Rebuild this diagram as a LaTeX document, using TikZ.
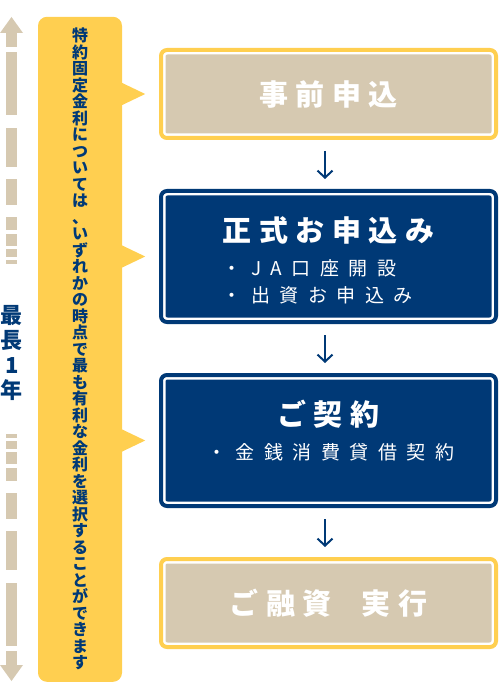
\documentclass[tikz,border=0pt]{standalone}
\usepackage{fontspec}
\usepackage{tikz}
\usetikzlibrary{arrows.meta,calc,positioning}
\newfontfamily\jp{Noto Sans CJK JP}
\newfontfamily\jptitle[LetterSpace=26]{Noto Sans CJK JP}
\newfontfamily\jpitem[LetterSpace=50]{Noto Sans CJK JP}
\definecolor{jagold}{RGB}{255,207,80}
\definecolor{jasand}{RGB}{214,201,177}
\definecolor{janavy}{RGB}{0,57,118}
\tikzset{
  panel/.style={
    rectangle,
    rounded corners=6pt,
    minimum width=335pt,
    outer sep=0pt,
    inner sep=0pt,
    draw=white,
    line width=9pt
  },
  pale/.style={
    panel,
    minimum height=88pt,
    preaction={fill=jasand},
    postaction={draw=jagold,line width=4pt},
    text=white,
    font=\jptitle\bfseries\fontsize{29}{34}\selectfont
  },
  deep/.style={
    panel,
    minimum height=131pt,
    preaction={fill=janavy},
    postaction={draw=janavy,line width=4pt}
  },
  heading/.style={
    inner sep=0pt,
    text=white,
    font=\jptitle\bfseries\fontsize{29}{34}\selectfont
  },
  items/.style={
    inner sep=0pt,
    align=left,
    text=white,
    font=\jpitem\fontsize{19}{27}\selectfont
  },
  note/.style={
    rectangle,
    rounded corners=9pt,
    fill=jagold,
    minimum width=84pt,
    minimum height=665pt,
    inner sep=0pt,
    align=center,
    text=janavy,
    font=\jp\bfseries\fontsize{16}{16.5}\selectfont
  },
  span/.style={
    inner sep=0pt,
    align=center,
    text=janavy,
    font=\jp\bfseries\fontsize{22}{25}\selectfont
  },
  pointer/.style={fill=jagold},
  scalebar/.style={fill=jasand},
  flow/.style={
    -{Straight Barb[length=7pt,width=15pt]},
    line width=2pt,
    janavy,
    shorten <=13pt,
    shorten >=12pt
  }
}

\begin{document}
\begin{tikzpicture}[x=1pt,y=-1pt,node distance=53pt]
\useasboundingbox (0,0) rectangle (500,700);

% period scale
\fill[scalebar] (0,33) -- (11.5,17) -- (23,33) -- cycle;
\fill[scalebar] (6,33) rectangle (17,47);
\fill[scalebar] (0,665) -- (11.5,681) -- (23,665) -- cycle;
\fill[scalebar] (6,651) rectangle (17,665);
\foreach \a/\b in {52/115,128/167,179/205,217/230,234/246,249/257,260/264}{
  \fill[scalebar] (6,\a) rectangle (17,\b);
  \fill[scalebar] (6,698-\b) rectangle (17,698-\a);
}
\node[span] (span) at (12,353) {最\\長\\1\\年};

% steps
\node[pale] (b1) at (328.5,94) {事前申込};
\node[deep,below=of b1] (b2) {};
\node[deep,below=of b2] (b3) {};
\node[pale,below=of b3] (b4) {ご融資\hspace{30pt}実行};

\node[heading] (t2) at ([yshift=-39pt]b2.north) {正式お申込み};
\node[items,below=15pt of t2,xshift=-11pt] (l2) {・JA口座開設\\・出資お申込み};
\node[heading] (t3) at ([yshift=-39pt]b3.north) {ご契約};
\node[items,below=15pt of t3,xshift=2pt] (l3) {・金銭消費貸借契約};

\draw[flow] ([xshift=-3.5pt]b1.south) -- ([xshift=-3.5pt]b2.north);
\draw[flow] ([xshift=-3.5pt]b2.south) -- ([xshift=-3.5pt]b3.north);
\draw[flow] ([xshift=-3.5pt]b3.south) -- ([xshift=-3.5pt]b4.north);

% note
\node[note] (note) at (80,349.3) {特\\約\\固\\定\\金\\利\\に\\つ\\い\\て\\は\\、\\い\\ず\\れ\\か\\の\\時\\点\\で\\最\\も\\有\\利\\な\\金\\利\\を\\選\\択\\す\\る\\こ\\と\\が\\で\\き\\ま\\す};
\fill[pointer] ($(note.east |- b1)+(-1,-11.5)$) -- ++(24,11.5) -- ++(-24,11.5) -- cycle;
\fill[pointer] ($(note.east |- b2)+(-1,-11.5)$) -- ++(24,11.5) -- ++(-24,11.5) -- cycle;
\fill[pointer] ($(note.east |- b3)+(-1,-11.5)$) -- ++(24,11.5) -- ++(-24,11.5) -- cycle;
\end{tikzpicture}
\end{document}
